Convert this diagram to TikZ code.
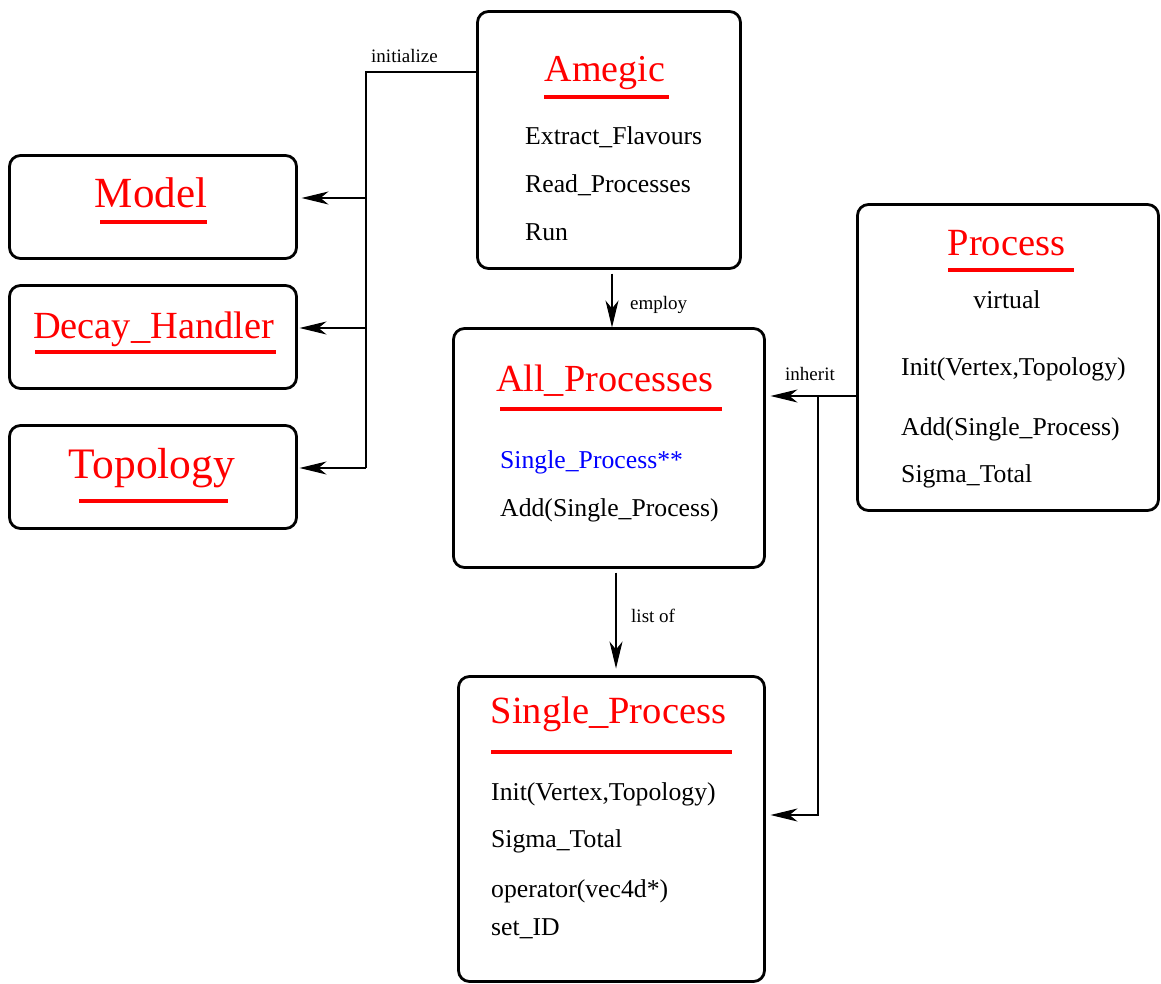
\documentclass[tikz,border=0pt]{standalone}
\usepackage{fontspec}
\setmainfont{Liberation Serif}
\usetikzlibrary{arrows.meta}
\begin{document}
\begin{tikzpicture}[x=1pt,y=-1pt,
  box/.style={draw, line width=2.8pt, rounded corners=11pt, inner sep=0pt, outer sep=0pt, anchor=north west},
  ttl/.style={text=red, anchor=base, inner sep=0pt},
  itm/.style={anchor=base west, inner sep=0pt, font=\fontsize{25.7}{28}\selectfont},
  lbl/.style={anchor=base west, inner sep=0pt, font=\fontsize{19}{21}\selectfont},
  ul/.style={red, line width=3.5pt},
  conn/.style={line width=1.1pt},
  arr/.style={conn, -{Stealth[length=27pt,width=13pt,inset=8pt]}}]
\useasboundingbox (0,0) rectangle (1161,984);

% boxes
\node[box, minimum width=263pt, minimum height=257pt] (amegic) at (477.5,11.5) {};
\node[box, minimum width=287pt, minimum height=103pt] (model) at (9.5,155.5) {};
\node[box, minimum width=287pt, minimum height=103pt] (decay) at (9.5,285.5) {};
\node[box, minimum width=287pt, minimum height=103pt] (topo) at (9.5,425.5) {};
\node[box, minimum width=311pt, minimum height=239pt] (allp) at (453.5,328.5) {};
\node[box, minimum width=301pt, minimum height=306pt] (proc) at (857.5,204.5) {};
\node[box, minimum width=306pt, minimum height=305pt] (single) at (458.5,676.5) {};

% titles
\node[ttl, font=\fontsize{38}{40}\selectfont] (tamegic) at (605,82) {Amegic};
\node[ttl, font=\fontsize{43}{45}\selectfont] (tmodel) at (151,208) {Model};
\node[ttl, font=\fontsize{38.4}{40}\selectfont] (tdecay) at (153.5,338) {Decay\_Handler};
\node[ttl, font=\fontsize{43.5}{45}\selectfont] (ttopo) at (152,478) {Topology};
\node[ttl, font=\fontsize{38.3}{40}\selectfont] (tallp) at (604.5,391) {All\_Processes};
\node[ttl, font=\fontsize{38.5}{40}\selectfont] (tproc) at (1006.5,255) {Process};
\node[ttl, font=\fontsize{38.5}{40}\selectfont] (tsingle) at (608.5,723) {Single\_Process};

% underlines
\draw[ul] (544,97) -- (669,97);
\draw[ul] (100,222) -- (207,222);
\draw[ul] (35,352) -- (276,352);
\draw[ul] (79,501) -- (228,501);
\draw[ul] (500,409) -- (722,409);
\draw[ul] (948,270) -- (1074,270);
\draw[ul] (491,752) -- (732,752);

% items
\node[itm] (a1) at (525,145) {Extract\_Flavours};
\node[itm] (a2) at (525,193) {Read\_Processes};
\node[itm] (a3) at (525,241) {Run};
\node[itm, text=blue] (p1) at (500,468) {Single\_Process**};
\node[itm] (p2) at (500,516) {Add(Single\_Process)};
\node[itm, anchor=base] (v0) at (1007,308) {virtual};
\node[itm] (v1) at (901,375) {Init(Vertex,Topology)};
\node[itm] (v2) at (901,435) {Add(Single\_Process)};
\node[itm] (v3) at (901,482) {Sigma\_Total};
\node[itm] (s1) at (491,800) {Init(Vertex,Topology)};
\node[itm] (s2) at (491,847) {Sigma\_Total};
\node[itm] (s3) at (491,897) {operator(vec4d*)};
\node[itm] (s4) at (491,935) {set\_ID};

% labels
\node[lbl] (linit) at (371,63) {initialize};
\node[lbl] (lemploy) at (630,309) {employ};
\node[lbl] (linherit) at (785,380) {inherit};
\node[lbl] (llist) at (631,622) {list of};

% connectors
\coordinate (ja) at (366,72);
\coordinate (jm) at (366,198);
\coordinate (jd) at (366,328);
\coordinate (jt) at (366,468);
\draw[conn] (amegic.west |- ja) -- (ja) -- (jt);
\draw[arr] (jm) -- ([xshift=5pt]model.east |- jm);
\draw[arr] (jd) -- ([xshift=3pt]decay.east |- jd);
\draw[arr] (jt) -- ([xshift=3pt]topo.east |- jt);

\coordinate (ex) at (612,0);
\draw[arr] ([yshift=-5pt]amegic.south -| ex) -- ([yshift=1pt]allp.north -| ex);

\coordinate (lx) at (616,0);
\draw[arr] ([yshift=-5pt]allp.south -| lx) -- ([yshift=8pt]single.north -| lx);

\coordinate (ih) at (818,396);
\coordinate (ib) at (818,815);
\draw[arr] (proc.west |- ih) -- ([xshift=6pt]allp.east |- ih);
\draw[arr] (ih) -- (ib) -- ([xshift=6pt]single.east |- ib);
\end{tikzpicture}
\end{document}
